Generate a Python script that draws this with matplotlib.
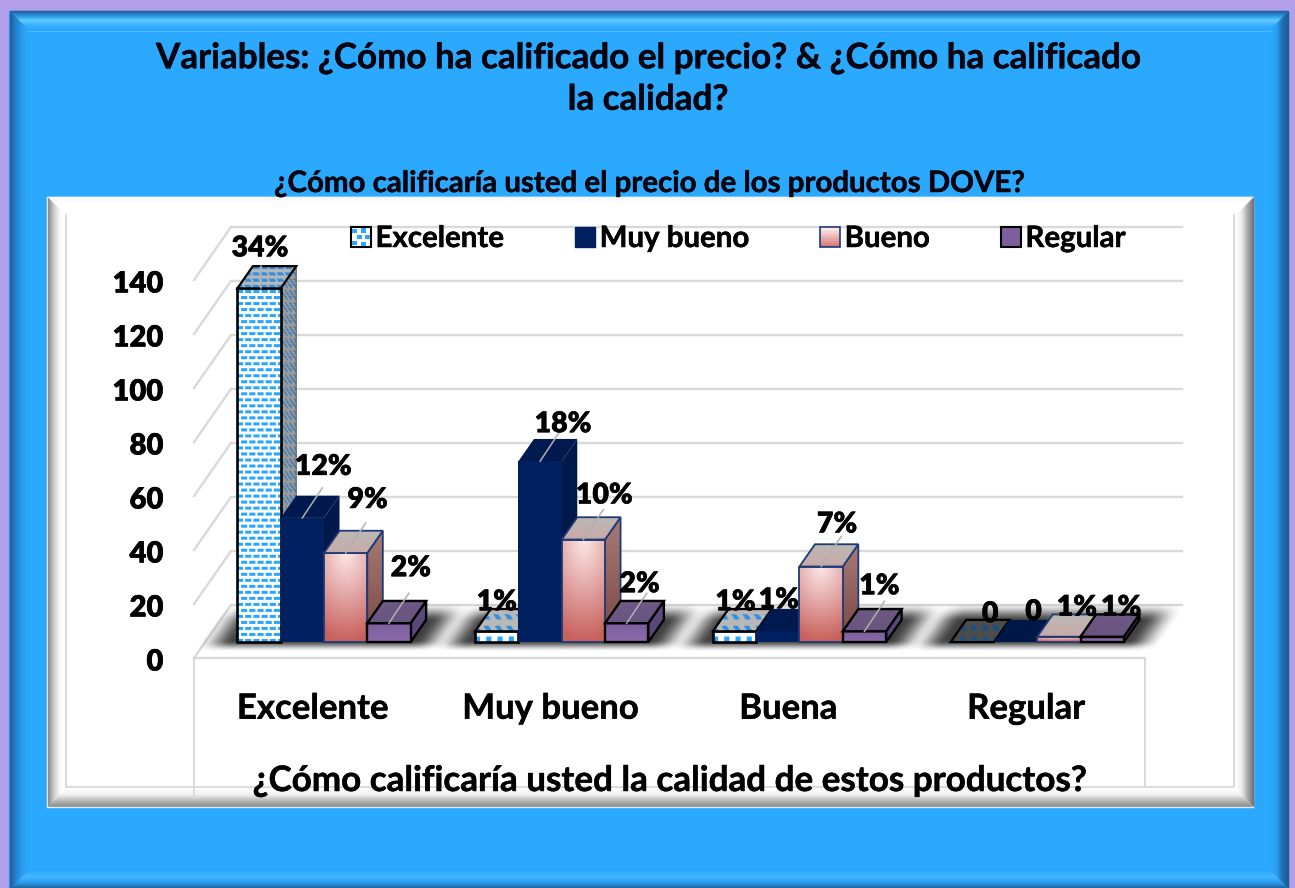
import numpy as np
import matplotlib
matplotlib.use("Agg")
import matplotlib.pyplot as plt
import matplotlib.patheffects as pe
from matplotlib.colors import to_rgb
from matplotlib.legend_handler import HandlerPatch
from matplotlib.patches import Patch, Polygon, Rectangle
from matplotlib.text import Text
from matplotlib.transforms import ScaledTranslation

plt.rcParams['font.family'] = ['Lato', 'DejaVu Sans']
plt.rcParams['font.weight'] = 'bold'

# datos
categorias = ["Excelente", "Muy bueno", "Buena", "Regular"]
series = ["Excelente", "Muy bueno", "Bueno", "Regular"]
excelente = [131, 4, 4, 0]
muy_bueno = [46, 67, 4, 0]
bueno = [33, 38, 28, 2]
regular = [7, 7, 4, 2]
pct_excelente = ["34%", "1%", "1%", "0"]
pct_muy_bueno = ["12%", "18%", "1%", "0"]
pct_bueno = ["9%", "10%", "7%", "1%"]
pct_regular = ["2%", "2%", "1%", "1%"]
yticks = [0, 20, 40, 60, 80, 100, 120, 140]

# desplazamiento de las etiquetas (px) respecto del centro frontal de la barra
etiq_excelente = [(1, 40), (0, 29), (1, 29), (18, 28)]
etiq_muy_bueno = [(21, 51), (23, 37), (1, 31), (18, 30)]
etiq_bueno = [(22, 53), (21, 44), (16, 42), (18, 29)]
etiq_regular = [(22, 55), (13, 39), (15, 45), (19, 29)]

W, H = 1295, 888
AZUL = "#2aa9ff"
fig = plt.figure(figsize=(W / 100, H / 100), dpi=100, facecolor="#b39ee9")


def mezcla(c0, c1, t):
    c0, c1 = np.array(to_rgb(c0)), np.array(to_rgb(c1))
    return c0 + (c1 - c0) * t


def bisel(a, caja, ancho, izq, arr, der, aba):
    # bordes en degrade, de afuera hacia adentro
    x0, y0, x1, y1 = caja
    for i in range(ancho):
        t = i / max(ancho - 1, 1)
        d = i + 0.5
        for cols, xs, ys in [(izq, [x0 + d, x0 + d], [y0 + d, y1 - d]),
                             (arr, [x0 + d, x1 - d], [y0 + d, y0 + d]),
                             (der, [x1 - d, x1 - d], [y0 + d, y1 - d]),
                             (aba, [x0 + d, x1 - d], [y1 - d, y1 - d])]:
            s = t * (len(cols) - 1)
            k = min(int(s), len(cols) - 2)
            a.plot(xs, ys, color=mezcla(cols[k], cols[k + 1], s - k), lw=1.0,
                   solid_capstyle='butt')


# fondo
bg = fig.add_axes([0, 0, 1, 1], zorder=-1)
bg.set_xlim(0, W)
bg.set_ylim(H, 0)
bg.axis('off')
bg.add_patch(Rectangle((9, 11), 1279, 877, color=AZUL))
bisel(bg, (9, 11, 1288, 888), 19,
      ["#2b5c98", "#1f86d2", "#2a9cf0", AZUL],
      ["#2b5c98", "#2296e4", "#62c9ff", "#3db2ff", AZUL],
      ["#1f5a8f", "#1f6fb0", "#2a9ff0", AZUL],
      ["#1f5a8f", "#2a9cf0", "#45b6ff", AZUL])
bg.add_patch(Rectangle((28, 31), 1242, 839, fill=False, ec="#1d87cf", lw=0.9))
bg.plot([28, 1270], [31, 31], color="#4dbbff", lw=0.9)

# panel blanco
bg.add_patch(Rectangle((47, 197), 1206, 609, color="white"))
bisel(bg, (47, 197, 1253, 806), 19,
      ["#8c8c8c", "#d0d0d0", "#fafafa", "#ffffff"],
      ["#f6f6f6", "#ffffff", "#ffffff", "#ffffff"],
      ["#707070", "#a8a8a8", "#ececec", "#ffffff"],
      ["#8c8c8c", "#b8b8b8", "#f0f0f0", "#ffffff"])
bg.plot([47, 1253], [806.5, 806.5], color="#dff1ff", lw=1)
bg.plot([66, 66, 1233.5, 1233.5], [215, 787, 787, 215], color="#d4d4d4", lw=1.2)

# ejes del grafico: el plano frontal de la caja 3D
ax = fig.add_axes([194 / W, (H - 658) / H, 951 / W, 378 / H])
ax.patch.set_visible(False)
ax.set_xlim(-0.5, 3.5)
ax.set_ylim(0, 140)
PX_X = 951 / 4
PX_Y = 378 / 140
PROF_X, PROF_Y = 37 / PX_X, 53 / PX_Y  # desplazamiento del fondo
P0, P1 = 0.30, 0.72  # profundidad de las barras
ANCHO = 43.3 / PX_X


def proy(x, y, p):
    return x + p * PROF_X, y + p * PROF_Y


def paredes():
    gris = "#d9d9d9"
    for v in yticks:
        x0, y0 = proy(-0.5, v, 0)
        x1, y1 = proy(-0.5, v, 1)
        x2, y2 = proy(3.5, v, 1)
        ax.plot([x0, x1, x2], [y0, y1, y2], color=gris, lw=1.7, clip_on=False, zorder=1,
                solid_joinstyle='miter')
    ax.plot([-0.5, -0.5], [0, -52], color=gris, lw=1.4, clip_on=False, zorder=1)
    ax.plot([3.5, 3.5], [0, -47], color=gris, lw=1.4, clip_on=False, zorder=1)
    ax.plot([-0.5, 3.5], [0, 0], color=gris, lw=1.7, clip_on=False, zorder=1)


def smooth(d, b):
    t = np.clip(d / b + 0.5, 0, 1)
    return t ** 2 * (3 - 2 * t)


def sombra(c):
    # sombra difusa en el piso bajo cada grupo
    x0 = c - 2 * ANCHO - 0.09
    x1 = c + 2 * ANCHO + 0.09
    p0, p1 = 0.21, 0.85
    xa, ya = proy(x0, 0, p0)
    xb, yb = proy(x1, 0, p1)
    n_x, n_y = int((xb - xa) * PX_X) + 100, int((yb - ya) * PX_Y) + 50
    xs = np.linspace(xa - 0.16, xb + 0.16, n_x)
    ys = np.linspace(ya - 8, yb + 8, n_y)
    xx, yy = np.meshgrid(xs, ys)
    u = (xx - (yy - ya) * PROF_X / PROF_Y) * PX_X
    v = (yy - ya) * PX_Y
    dy = (yb - ya) * PX_Y
    al = smooth(u - xa * PX_X, 36) * smooth(x1 * PX_X + (p0 * PROF_X) * PX_X - u, 36)
    al = al * smooth(v, 12) * smooth(dy - v, 20) * 0.75
    rgba = np.zeros((n_y, n_x, 4))
    rgba[..., 3] = al
    ax.imshow(rgba, extent=(xs[0], xs[-1], ys[0], ys[-1]), origin='lower',
              aspect='auto', zorder=2, clip_on=False)


def cara_imagen(esq, rgb, borde, lw):
    # pone una imagen recortada a un poligono y le dibuja el borde
    xs = [p[0] for p in esq]
    ys = [p[1] for p in esq]
    ext = (min(xs), max(xs), min(ys), max(ys))
    im = ax.imshow(rgb, extent=ext, origin='lower', aspect='auto', zorder=3,
                   interpolation='bilinear')
    pol = Polygon(esq, closed=True, transform=ax.transData, fill=False, ec=borde, lw=lw,
                  zorder=3, joinstyle='miter', clip_on=False)
    ax.add_patch(pol)
    im.set_clip_path(pol)
    im.set_clip_box(fig.bbox)


def trama(esq, fondo, tinta, grande=False, corte=(0.0, 0.0)):
    # relleno de rayitas azules, en pixeles de la cara
    xs = [p[0] for p in esq]
    ys = [p[1] for p in esq]
    nx = max(int((max(xs) - min(xs)) * PX_X), 2)
    ny = max(int((max(ys) - min(ys)) * PX_Y), 2)
    yy, xx = np.mgrid[0:ny, 0:nx]
    u = xx - yy * corte[0]
    v = yy - xx * corte[1]
    if grande:
        fil = np.floor(v / 11).astype(int)
        mask = ((u + fil * 5) % 11 < 5) & (v % 11 < 4.5)
    else:
        fil = np.floor(v / 6).astype(int)
        mask = ((u + fil * 4) % 8 < 6) & (v % 6 < 2.2)
    rgb = np.ones((ny, nx, 3)) * np.array(to_rgb(fondo))
    rgb[mask] = to_rgb(tinta)
    return rgb


def vertical(esq, abajo, arriba, luz=None):
    ys = [p[1] for p in esq]
    nx = 24
    ny = max(int((max(ys) - min(ys)) * PX_Y), 2)
    yy, xx = np.mgrid[0:ny, 0:nx]
    t = yy / max(ny - 1, 1)
    if luz is not None:
        # brillo arriba al centro
        r = np.clip(np.hypot((xx / (nx - 1) - 0.5) * 0.8, 1 - t), 0, 1)
        t = 1 - r
    c0, c1 = np.array(to_rgb(abajo)), np.array(to_rgb(arriba))
    return c0 + (c1 - c0) * t[..., None]


def barra(serie, x, v):
    xa, xb = x, x + ANCHO
    frente = [proy(xa, 0, P0), proy(xb, 0, P0), proy(xb, v, P0), proy(xa, v, P0)]
    lado = [proy(xb, 0, P0), proy(xb, 0, P1), proy(xb, v, P1), proy(xb, v, P0)]
    tapa = [proy(xa, v, P0), proy(xb, v, P0), proy(xb, v, P1), proy(xa, v, P1)]
    corte_tapa = (-15 / 22, 0.0)
    corte_lado = (0.0, -22 / 15)
    if serie == 0:
        grande = v < 10
        tapa_f, tapa_t = ("#4c4c4c", "#14508c") if v == 0 else ("#b8b8b8", "#2f8fe0")
        if v > 0:
            cara_imagen(lado, trama(lado, "#9c9c9c", "#2f78bc", grande, corte_lado), "#6f6f6f", 1.0)
            cara_imagen(frente, trama(frente, "white", "#2aa6ff", grande), "black", 1.9)
        cara_imagen(tapa, trama(tapa, tapa_f, tapa_t, True if v < 10 else False, corte_tapa), "black", 1.6)
    elif serie == 1:
        ax.add_patch(Polygon(lado, color="#00184a", lw=0, zorder=3, clip_on=False))
        ax.add_patch(Polygon(frente, color="#002060", lw=0, zorder=3, clip_on=False))
        ax.add_patch(Polygon(tapa, color="#001a50" if v > 0 else "#001848", lw=0, zorder=3, clip_on=False))
    elif serie == 2:
        cara_imagen(lado, vertical(lado, "#7c4642", "#a67c78"), "#1d3a78", 1.3)
        cara_imagen(frente, vertical(frente, "#c8605c", "#fce9e9", True), "#1d3a78", 1.3)
        cara_imagen(tapa, vertical(tapa, "#c8aaa8", "#bdb9b4"), "#1d3a78", 1.3)
    else:
        cara_imagen(lado, vertical(lado, "#5a4678", "#5e4a7c"), "black", 1.7)
        cara_imagen(frente, vertical(frente, "#8c6aac", "#7c5f9c"), "black", 1.7)
        cara_imagen(tapa, vertical(tapa, "#6a5580", "#6e5884"), "black", 1.7)


paredes()
valores = [excelente, muy_bueno, bueno, regular]
textos = [pct_excelente, pct_muy_bueno, pct_bueno, pct_regular]
offsets = [etiq_excelente, etiq_muy_bueno, etiq_bueno, etiq_regular]

for c in range(len(categorias)):
    sombra(c)
    for s in range(len(series)):
        barra(s, c + (s - 2) * ANCHO, valores[s][c])

for c in range(len(categorias)):
    for s in range(len(series)):
        v = valores[s][c]
        x, y = proy(c + (s - 2) * ANCHO + ANCHO / 2, v, P0)
        dx, dy = offsets[s][c]
        if dy > 32 and s > 0:
            ax.plot([x, x + 20 / PX_X], [y, y + 30 / PX_Y], color="#b0b0b0", lw=1.1,
                    clip_on=False, zorder=4)
        elif s == 0 and v > 100:
            ax.plot([x + 2 / PX_X, x + 2 / PX_X], [y, y + 22 / PX_Y], color="#b0b0b0", lw=1.1,
                    clip_on=False, zorder=4)
        ax.annotate(textos[s][c], (x, y), xytext=(dx, dy), textcoords='offset pixels',
                    ha='center', va='center', fontsize=20.5, fontweight='heavy',
                    color="black", zorder=5, annotation_clip=False)

# ejes
for sp in ax.spines.values():
    sp.set_visible(False)
ax.set_xticks(range(len(categorias)))
ax.set_xticklabels(categorias, fontsize=25)
ax.set_yticks(yticks)
ax.set_yticklabels([str(v) for v in yticks], fontsize=21, fontweight='heavy')
ax.tick_params(axis='both', length=0)
ax.tick_params(axis='x', pad=25)
ax.tick_params(axis='y', pad=22)
for lab in ax.get_yticklabels():
    lab.set_transform(lab.get_transform() + ScaledTranslation(0, -2 / 100, fig.dpi_scale_trans))
ax.set_xlabel("¿Cómo calificaría usted la calidad de estos productos?", fontsize=25.2,
              labelpad=29, color="black", fontweight='bold')
ax.set_xlim(-0.5, 3.5)
ax.set_ylim(0, 140)


# leyenda
class Rayada(HandlerPatch):
    def create_artists(self, legend, orig, xd, yd, w, h, fs, trans):
        base = Rectangle((xd, yd), w, h, fc=orig.get_facecolor(), ec=orig.get_edgecolor(),
                         lw=orig.get_linewidth(), transform=trans)
        extra = []
        for fx, fy in [(.05, .1), (.5, .05), (.3, .4), (.72, .4), (.05, .68), (.5, .72)]:
            extra.append(Rectangle((xd + fx * w, yd + fy * h), w * .25, h * .22, color="#2aa6ff",
                                   lw=0, transform=trans))
        return [base] + extra


class Degrade(HandlerPatch):
    def create_artists(self, legend, orig, xd, yd, w, h, fs, trans):
        tiras = []
        for i in range(10):
            c = mezcla("#d67a76", "#fdeeee", i / 9)
            tiras.append(Rectangle((xd, yd + i * h / 10), w, h / 10, color=c, lw=0, transform=trans))
        borde = Rectangle((xd, yd), w, h, fill=False, ec="#1d3a78", lw=1.2, transform=trans)
        return tiras + [borde]


h0 = Patch(fc="white", ec="black", lw=1.5, label=series[0])
h1 = Patch(fc="#002060", ec="#002060", label=series[1])
h2 = Patch(fc="#f0b8b4", ec="#1d3a78", label=series[2])
h3 = Patch(fc="#7c5f9c", ec="black", lw=1.5, label=series[3])
leg = fig.legend(handles=[h0, h1, h2, h3], ncol=4, frameon=False, fontsize=21.2,
                 loc='center', bbox_to_anchor=(738 / W, 1 - 239 / H),
                 handlelength=0.68, handleheight=0.68, handletextpad=0.16, columnspacing=2.42,
                 handler_map={h0: Rayada(), h2: Degrade()})

# titulos
fig.text(648 / W, 1 - 79 / H, "Variables: ¿Cómo ha calificado el precio? & ¿Cómo ha calificado\nla calidad?",
         ha='center', va='center', fontsize=25.2, color="#050510", linespacing=1.37)
fig.text(648 / W, 1 - 184 / H, "¿Cómo calificaría usted el precio de los productos DOVE?",
         ha='center', va='center', fontsize=21.2, color="#050510")

# el original tiene la letra mas gruesa
for t in fig.findobj(Text):
    t.set_path_effects([pe.withStroke(linewidth=0.35, foreground=t.get_color())])

fig.savefig("out.png", dpi=100, facecolor=fig.get_facecolor())
